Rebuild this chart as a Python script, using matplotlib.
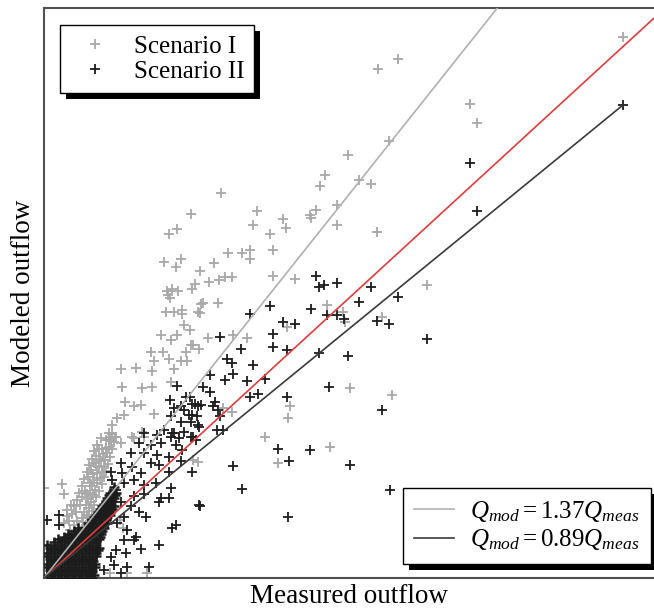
import numpy as np
import matplotlib
matplotlib.use("Agg")
import matplotlib.pyplot as plt
import matplotlib.patheffects as pe

plt.rcParams['font.family'] = ['Liberation Serif', 'DejaVu Serif']
plt.rcParams['mathtext.fontset'] = 'custom'
plt.rcParams['mathtext.rm'] = 'Liberation Serif'
plt.rcParams['mathtext.it'] = 'Liberation Serif:italic'

# Data (measured, modeled), arbitrary units
scen1_sparse = [
    (5.79, 5.89), (3.34, 5.55), (3.54, 5.65), (4.26, 5.16), (4.33, 4.96),
    (3.45, 4.76), (3.04, 4.61), (2.81, 4.39), (2.76, 4.27), (3.15, 4.34),
    (3.27, 4.29), (1.77, 4.19), (2.93, 4.06), (2.72, 4.01), (2.66, 3.95),
    (2.67, 3.92), (1.47, 3.97), (2.13, 4.00), (2.09, 3.85), (2.39, 3.91),
    (2.42, 3.81), (2.93, 3.85), (3.33, 3.77), (1.25, 3.75), (1.33, 3.80),
    (2.26, 3.75), (1.84, 3.54), (1.98, 3.54), (2.06, 3.57), (2.06, 3.47),
    (2.29, 3.57), (1.20, 3.44), (1.37, 3.48), (1.32, 3.39), (1.56, 3.35),
    (1.70, 3.43), (1.65, 3.22), (1.75, 3.25), (1.81, 3.28), (1.88, 3.28),
    (2.29, 3.29), (2.51, 3.26), (3.83, 3.19), (1.51, 3.20), (1.48, 3.15),
    (1.23, 3.13), (1.28, 3.15), (1.34, 3.13), (1.24, 3.08), (1.26, 3.05),
    (1.57, 2.99), (1.59, 3.00), (1.74, 3.00), (1.56, 2.89), (1.22, 2.90),
    (1.30, 2.90), (1.38, 2.92), (1.38, 2.88), (1.54, 2.90), (2.83, 2.97),
    (2.99, 2.90), (3.01, 2.79), (3.38, 2.84), (1.40, 2.76), (1.46, 2.70),
    (1.17, 2.65), (1.27, 2.59), (1.33, 2.65), (1.64, 2.61), (1.89, 2.65),
    (2.03, 2.61), (2.43, 2.74), (1.47, 2.54), (1.55, 2.50), (1.49, 2.54),
    (1.07, 2.46), (1.19, 2.46), (1.25, 2.39), (1.42, 2.46), (1.10, 2.36),
    (1.08, 2.26), (1.37, 2.36), (1.43, 2.36), (1.30, 2.28), (0.77, 2.28),
    (0.92, 2.29), (0.78, 2.08), (0.98, 2.07), (1.08, 2.08), (1.27, 2.14),
    (3.06, 2.07), (3.48, 1.99), (0.81, 1.92), (0.90, 1.87), (0.97, 1.88),
    (1.10, 1.79), (0.80, 1.78), (0.73, 1.74), (0.68, 1.67), (0.67, 1.54),
    (0.72, 1.54), (0.88, 1.54), (0.98, 1.59), (1.00, 1.54), (2.46, 1.87),
    (2.44, 1.74), (1.88, 1.81), (1.79, 1.85), (2.21, 1.54), (2.86, 1.43),
    (2.34, 1.25), (1.54, 1.26), (1.49, 1.29), (0.65, 1.58), (0.77, 1.47),
    (0.90, 1.52), (0.18, 1.02), (0.20, 0.92), (0.00, 0.98), (0.23, 0.74),
    (0.76, 0.63), (0.79, 0.54), (1.03, 0.05), (0.83, 0.05), (0.66, 0.05),
]
scen1_band = [
    (0.35, 0.55), (0.42, 0.58), (0.38, 0.65), (0.45, 0.66), (0.40, 0.72),
    (0.48, 0.73), (0.42, 0.80), (0.50, 0.80), (0.44, 0.86), (0.52, 0.88),
    (0.46, 0.93), (0.55, 0.95), (0.48, 1.00), (0.58, 1.02), (0.50, 1.07),
    (0.60, 1.10), (0.53, 1.14), (0.62, 1.17), (0.55, 1.21), (0.64, 1.24),
    (0.57, 1.28), (0.66, 1.32), (0.59, 1.35), (0.68, 1.40), (0.62, 1.42),
    (0.70, 1.48), (0.65, 1.50), (0.68, 1.57), (0.30, 0.50), (0.33, 0.62),
    (0.39, 0.61), (0.43, 0.69), (0.45, 0.76), (0.47, 0.83), (0.49, 0.90),
    (0.51, 0.96), (0.53, 1.03), (0.56, 1.09), (0.58, 1.16), (0.60, 1.22),
    (0.61, 1.29), (0.63, 1.36), (0.65, 1.43), (0.67, 1.49), (0.71, 1.54),
    (0.43, 0.92), (0.46, 1.04), (0.49, 1.13), (0.52, 1.22), (0.55, 1.30),
    (0.58, 1.40), (0.62, 1.50), (0.30, 0.58), (0.26, 0.52),
    (0.25, 0.62), (0.28, 0.70), (0.30, 0.78), (0.33, 0.85), (0.35, 0.93),
    (0.38, 1.00), (0.40, 1.08), (0.43, 1.15), (0.45, 1.23), (0.48, 1.30),
    (0.50, 1.38), (0.53, 1.45), (0.57, 1.52), (0.20, 0.60), (0.23, 0.68),
    (0.27, 0.80), (0.32, 0.72), (0.36, 0.80), (0.38, 0.88), (0.41, 0.95),
    (0.44, 1.10), (0.47, 1.18), (0.50, 1.25), (0.52, 1.33), (0.55, 1.40),
]
scen2_sparse = [
    (5.79, 5.15), (4.26, 4.52), (4.33, 4.00), (2.72, 3.29), (2.75, 3.17),
    (2.80, 3.19), (2.93, 3.21), (3.27, 3.17), (3.54, 3.06), (3.15, 3.01),
    (2.26, 2.96), (2.67, 2.93), (2.06, 2.88), (2.83, 2.86), (2.93, 2.86),
    (3.00, 2.82), (3.33, 2.80), (3.45, 2.77), (3.83, 2.60), (2.39, 2.79),
    (2.51, 2.77), (2.29, 2.66), (2.29, 2.52), (1.76, 2.63), (1.97, 2.50),
    (2.43, 2.48), (2.75, 2.45), (3.04, 2.42), (1.83, 2.39), (1.88, 2.34),
    (2.09, 2.32), (1.66, 2.21), (1.81, 2.16), (1.89, 2.22), (2.03, 2.15),
    (2.21, 2.17), (1.59, 2.08), (1.66, 2.03), (2.06, 1.97), (2.14, 2.01),
    (2.43, 1.97), (2.85, 2.08), (1.46, 1.97), (1.51, 1.90), (1.54, 1.87),
    (1.71, 1.92), (1.69, 1.87), (1.74, 1.83), (1.48, 1.78), (1.76, 1.76),
    (1.54, 1.67), (1.73, 1.61), (1.79, 1.61), (1.49, 1.54), (3.38, 1.83),
    (2.34, 1.40), (2.66, 1.39), (2.45, 1.27), (3.06, 1.23), (1.89, 1.22),
    (1.48, 1.16), (1.98, 0.97), (1.56, 0.78), (2.44, 0.66), (3.46, 0.96),
    (1.33, 2.09), (1.26, 1.94), (1.42, 1.97), (1.48, 1.90), (1.30, 1.85),
    (1.37, 1.87), (1.40, 1.83), (1.45, 1.78), (1.27, 1.76), (1.37, 1.70),
    (1.47, 1.70), (1.55, 1.65), (1.57, 1.88), (1.53, 1.76), (1.20, 1.61),
    (1.30, 1.58), (1.40, 1.59), (1.47, 1.54), (1.27, 1.54),
]
scen2_cluster = [
    (1.00, 1.58), (1.13, 1.56), (1.28, 1.58), (1.35, 1.52), (1.52, 1.50),
    (0.95, 1.47), (1.07, 1.45), (1.17, 1.47), (1.32, 1.45), (1.38, 1.39),
    (0.87, 1.36), (1.00, 1.36), (1.13, 1.34), (1.25, 1.32), (1.37, 1.28),
    (0.77, 1.25), (0.88, 1.21), (0.67, 1.16), (0.78, 1.14), (0.97, 1.14),
    (1.07, 1.25), (1.15, 1.23), (1.25, 1.16), (0.68, 1.07), (0.80, 1.03),
    (0.90, 1.07), (1.00, 1.01), (1.12, 1.03), (1.27, 0.98), (1.17, 0.87),
    (1.25, 0.87), (1.15, 0.83), (1.00, 0.92), (0.90, 0.89), (0.72, 0.96),
    (0.67, 0.89), (0.77, 0.83), (0.87, 0.78), (0.95, 0.72), (1.02, 0.67),
    (0.80, 0.67), (0.73, 0.60), (0.83, 0.52), (0.92, 0.45), (0.80, 0.41),
    (0.90, 0.41), (0.97, 0.32), (0.72, 0.30), (0.82, 0.27), (0.67, 0.23),
    (0.70, 0.14), (0.83, 0.12), (1.05, 0.12), (0.60, 0.09), (0.77, 0.05),
    (1.28, 0.54), (1.32, 0.58), (1.15, 0.36), (1.55, 0.79), (0.15, 0.69),
    (0.15, 0.58), (0.03, 0.63),
]
# dense core of Scenario II near the origin
scen2_core = [
    (0.07, 0.00), (0.14, 0.00), (0.21, 0.00), (0.28, 0.00), (0.35, 0.00),
    (0.42, 0.00), (0.48, 0.00),
    (0.03, 0.03), (0.10, 0.03), (0.17, 0.03), (0.24, 0.03), (0.31, 0.03),
    (0.38, 0.03), (0.45, 0.03), (0.50, 0.03),
    (0.07, 0.06), (0.14, 0.06), (0.21, 0.06), (0.28, 0.06), (0.35, 0.06),
    (0.42, 0.06), (0.48, 0.06),
    (0.06, 0.09), (0.13, 0.09), (0.20, 0.09), (0.27, 0.09), (0.34, 0.09),
    (0.41, 0.09), (0.48, 0.09),
    (0.03, 0.12), (0.10, 0.12), (0.17, 0.12), (0.24, 0.12), (0.31, 0.12),
    (0.38, 0.12), (0.45, 0.12), (0.51, 0.12),
    (0.03, 0.15), (0.10, 0.15), (0.17, 0.15), (0.24, 0.15), (0.31, 0.15),
    (0.38, 0.15), (0.45, 0.15), (0.51, 0.15),
    (0.07, 0.18), (0.14, 0.18), (0.21, 0.18), (0.28, 0.18), (0.35, 0.18),
    (0.42, 0.18), (0.49, 0.18),
    (0.06, 0.21), (0.13, 0.21), (0.20, 0.21), (0.27, 0.21), (0.34, 0.21),
    (0.41, 0.21), (0.48, 0.21),
    (0.03, 0.24), (0.10, 0.24), (0.17, 0.24), (0.24, 0.24), (0.31, 0.24),
    (0.38, 0.24), (0.45, 0.24), (0.52, 0.24),
    (0.03, 0.27), (0.10, 0.27), (0.17, 0.27), (0.24, 0.27), (0.31, 0.27),
    (0.38, 0.27), (0.45, 0.27), (0.52, 0.27),
    (0.07, 0.30), (0.14, 0.30), (0.21, 0.30), (0.28, 0.30), (0.35, 0.30),
    (0.42, 0.30), (0.49, 0.30), (0.54, 0.30),
    (0.06, 0.33), (0.13, 0.33), (0.20, 0.33), (0.27, 0.33), (0.34, 0.33),
    (0.41, 0.33), (0.48, 0.33), (0.55, 0.33),
    (0.03, 0.36), (0.10, 0.36), (0.17, 0.36), (0.24, 0.36), (0.31, 0.36),
    (0.38, 0.36), (0.45, 0.36), (0.52, 0.36),
    (0.10, 0.39), (0.17, 0.39), (0.24, 0.39), (0.31, 0.39), (0.38, 0.39),
    (0.45, 0.39), (0.52, 0.39),
    (0.14, 0.42), (0.21, 0.42), (0.28, 0.42), (0.35, 0.42), (0.42, 0.42),
    (0.49, 0.42), (0.55, 0.42),
    (0.20, 0.45), (0.27, 0.45), (0.34, 0.45), (0.41, 0.45), (0.48, 0.45),
    (0.56, 0.45),
    (0.24, 0.48), (0.31, 0.48), (0.38, 0.48), (0.45, 0.48), (0.52, 0.48),
    (0.57, 0.48),
    (0.30, 0.51), (0.37, 0.51), (0.44, 0.51), (0.51, 0.51), (0.58, 0.51),
    (0.34, 0.54), (0.41, 0.54), (0.48, 0.54), (0.55, 0.54), (0.60, 0.54),
    (0.45, 0.57), (0.52, 0.57), (0.59, 0.57),
    (0.44, 0.60), (0.51, 0.60), (0.58, 0.60), (0.63, 0.60),
    (0.48, 0.63), (0.55, 0.63), (0.62, 0.63),
    (0.50, 0.66), (0.57, 0.66), (0.63, 0.66),
    (0.52, 0.69), (0.59, 0.69), (0.66, 0.69),
    (0.54, 0.72), (0.60, 0.72), (0.66, 0.72),
    (0.56, 0.75), (0.62, 0.75), (0.68, 0.75),
    (0.58, 0.78), (0.64, 0.78), (0.70, 0.78),
    (0.60, 0.81), (0.67, 0.81), (0.62, 0.84), (0.68, 0.84),
    (0.63, 0.87), (0.70, 0.87), (0.65, 0.90), (0.71, 0.90),
    (0.66, 0.93), (0.72, 0.93), (0.70, 0.99),
]

slope_1 = 1.37
slope_2 = 0.89

s1 = np.array(scen1_sparse + scen1_band)
s2 = np.array(scen2_sparse + scen2_cluster)
core = np.array(scen2_core)

fig = plt.figure(figsize=(6.54, 6.12), dpi=100)
ax = fig.add_axes([44 / 654, 34 / 612, 610 / 654, 570 / 612])

h1, = ax.plot(s1[:, 0], s1[:, 1], '+', color='#a8a8a8', ms=7, mew=1.3,
              label='Scenario I', zorder=2)
h2, = ax.plot(s2[:, 0], s2[:, 1], '+', color='#1c1c1c', ms=7, mew=1.3,
              label='Scenario II', zorder=3)
ax.plot(core[:, 0], core[:, 1], '+', color='#1c1c1c', ms=7.5, mew=1.8, zorder=3)

xl = np.array([0, 6.5])
ax.plot(xl, xl, color='#e03c3c', lw=1.2, zorder=4)
l1, = ax.plot(xl, slope_1 * xl, color='#b0b0b0', lw=1.2, zorder=4)
xb = np.array([0, s2[:, 0].max()])
l2, = ax.plot(xb, slope_2 * xb, color='#3a3a3a', lw=1.2, zorder=4)

ax.set_xlim(0, 6.1)
ax.set_ylim(0, 6.21)
ax.set_xticks([])
ax.set_yticks([])
for s in ['left', 'top', 'bottom']:
    ax.spines[s].set_color('#505050')
    ax.spines[s].set_linewidth(1.5)
ax.spines['right'].set_visible(False)

ax.set_xlabel('Measured outflow', fontsize=19.5, labelpad=4)
ax.set_ylabel('Modeled outflow', fontsize=19.5, labelpad=6)

shadow = [pe.SimplePatchShadow(offset=(4.5, -4.5), shadow_rgbFace='black', alpha=1.0),
          pe.Normal()]

leg1 = ax.legend([h1, h2], ['Scenario I', 'Scenario II'], loc='upper left',
                 bbox_to_anchor=(0.026, 0.97), fontsize=18, fancybox=False,
                 framealpha=1, edgecolor='black', handlelength=2,
                 handletextpad=0.55, borderpad=0.4, labelspacing=0.1,
                 borderaxespad=0)
leg1.get_frame().set_linewidth(1.0)
leg1.get_frame().set_path_effects(shadow)
ax.add_artist(leg1)

leg2 = ax.legend([l1, l2], [r'$Q_{mod} = 1.37Q_{meas}$', r'$Q_{mod} = 0.89Q_{meas}$'],
                 loc='lower right', bbox_to_anchor=(0.995, 0.025), fontsize=18,
                 fancybox=False, framealpha=1, edgecolor='black',
                 handlelength=1.6, handletextpad=0.65, borderpad=0.45,
                 labelspacing=0.15, borderaxespad=0)
leg2.get_frame().set_linewidth(1.0)
leg2.get_frame().set_path_effects(shadow)

fig.savefig('out.png', dpi=100)
